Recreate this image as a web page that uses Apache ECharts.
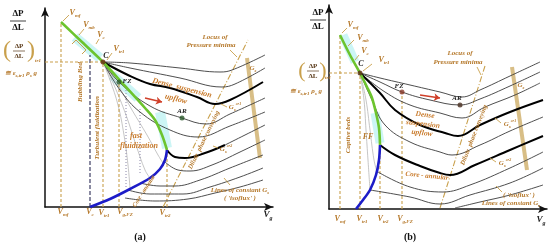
<!DOCTYPE html>
<html>
<head>
<meta charset="utf-8">
<script src="https://cdn.jsdelivr.net/npm/echarts@6/dist/echarts.min.js"></script>
<style>
html, body { margin: 0; background: #fff; }
#chart { width: 550px; height: 245px; }
</style>
</head>
<body>
<div id="chart"></div>
<script>
// ===== Panel (a): schematic units, x = gas velocity, y = pressure gradient =====
var aGreen = [[16,185],[37,165],[58,145],[80,121],[100,99],[110,87],[117,72],[122,57]];
var aBlue = [[45,0],[65,8],[85,18],[105,29],[115,38],[120,47],[122,57]];
var aGs1 = [[58,145],[85,144],[135,139],[175,135],[187,137],[220,152]];
var aGs2 = [[58,145],[85,139],[135,129],[177,120],[190,123],[220,139]];
var aGsCr1 = [[58,145],[85,131],[105,123],[125,119],[152,110],[170,103],[185,107],[218,125]];
var aGs4 = [[58,145],[74,125],[105,101],[137,89],[161,83],[185,93],[220,109]];
var aGs5 = [[58,145],[75,117],[95,95],[125,77],[153,70],[185,81],[220,95]];
var aGsCr2 = [[122,57],[130,50],[140,49],[160,54],[180,62]];
var aGsCr2Tail = [[180,62],[200,72],[220,82]];
var aGs6 = [[120,45],[133,37],[145,36],[167,42],[195,55],[220,67]];
var aGs7 = [[95,24],[115,21],[130,21],[155,27],[185,39],[218,52]];
var aGs8 = [[83,17],[105,13],[138,13],[165,20],[195,30],[218,39]];
var aGs9 = [[80,9],[110,6],[143,8],[170,14],[195,20],[218,27]];
var aFan1 = [[58,145],[65,127],[73,102],[79,72],[83,42],[85,19]];
var aFan2 = [[58,145],[69,122],[81,92],[91,62],[100,37],[105,29]];
var aFan3 = [[58,145],[73,122],[87,97],[102,72],[113,52],[118,44]];
var aVel = { mf: 16, c: 45, tr1: 58, gFZ: 74, tr2: 122 };
var aVelTop = { mf: 185, c: 152, tr1: 145, gFZ: 125, tr2: 57 };
var aDotted = [[81, 20, 119], [95, 34, 100]];
var aC = [58,145], aFZ = [74,125], aAR = [137,89];
var aLocus = [[118,0],[203,167]];
var aGsBar = [[202,149],[215,49]];
var aCyan = [[[30,170],[55,149]], [[67,132],[93,109]], [[115,95],[122,59]]];
var aArrow = [[100,109],[117,105]];

// ===== Panel (b) =====
var bGreen = [[11,174],[21,154],[31,136],[38,122],[43,111],[47,96],[50,81],[51,64]];
var bBlue = [[51,64],[50,49],[47,34],[41,19],[34,9],[27,0]];
var bGs1 = [[31,136],[51,131],[81,124],[111,117],[133,112],[151,119],[181,133],[211,147]];
var bGs2 = [[31,136],[51,127],[73,117],[101,109],[131,104],[151,110],[181,123],[211,137]];
var bGs3 = [[31,136],[56,117],[81,104],[111,96],[133,91],[156,102],[186,114],[211,126]];
var bGsCr1 = [[31,136],[51,116],[66,99],[91,84],[116,76],[129,73],[151,84],[181,97],[214,109]];
var bGs5 = [[31,136],[43,109],[56,84],[81,67],[111,57],[123,54],[151,64],[181,78],[214,92]];
var bGsCr2 = [[51,64],[66,54],[91,43],[111,36],[121,34],[146,44],[181,59],[214,73]];
var bGs7 = [[49,37],[81,22],[114,17],[141,24],[181,41],[214,57]];
var bGs8 = [[41,19],[81,12],[111,5],[141,14],[181,26],[214,41]];
var bGs9 = [[126,1],[151,7],[181,14],[214,24]];
var bFan1 = [[31,136],[35,109],[37,79],[39,49],[41,19]];
var bFan2 = [[31,136],[37,109],[41,79],[45,49],[48,37]];
var bVel = { mf: 11, tr1: 31, tr2: 51, gFZ: 73 };
var bVelTop = { mf: 174, tr1: 136, tr2: 64, gFZ: 117 };
var bC = [31,136], bFZ = [73,117], bAR = [131,104];
var bLocus = [[111,1],[156,143]];
var bGsBar = [[183,142],[198,39]];
var bCyan = [[[14,174],[26,147]], [[46,96],[51,66]]];
var bArrow = [[91,114],[111,111]];

var chart = echarts.init(document.getElementById('chart'));
var F = 'Liberation Serif';
var TAN = '#c9a04c', LBL = '#b5782a', ORG = '#c97b2c';

function L(g, d, col, w, type, z, sm) {
    return { type: 'line', xAxisIndex: g, yAxisIndex: g, data: d, symbol: 'none', smooth: sm || 0,
        z: z || 3, silent: true, clip: false, lineStyle: { color: col, width: w, type: type || 'solid' } };
}
function vline(g, x, top, col, type) {
    return L(g, [[x, 0], [x, top]], col, 1.1, type || [3, 2], 2);
}
function dots(g, pts, cols) {
    return { type: 'scatter', xAxisIndex: g, yAxisIndex: g, symbolSize: 5, z: 6, silent: true,
        data: pts.map(function (p, i) { return { value: p, itemStyle: { color: cols[i] } }; }) };
}
function arrow(g, d) {
    return { type: 'lines', coordinateSystem: 'cartesian2d', xAxisIndex: g, yAxisIndex: g, z: 6,
        symbol: ['none', 'arrow'], symbolSize: 6, silent: true,
        lineStyle: { color: '#d0402a', width: 1.6, opacity: 1 }, data: [{ coords: d }] };
}
function axisX(g, max) {
    return { gridIndex: g, type: 'value', min: 0, max: max,
        axisLine: { show: true, onZero: false, symbol: ['none', 'arrow'], symbolSize: [6, 9],
            lineStyle: { color: '#111', width: 1.5 } },
        axisTick: { show: false }, axisLabel: { show: false }, splitLine: { show: false } };
}

var series = [];
// panel (a)
aCyan.forEach(function (c) { series.push(L(0, c, 'rgba(170,238,238,0.6)', 10, 'solid', 1)); });
[aFan1, aFan2, aFan3].forEach(function (c) { series.push(L(0, c, '#b8b8b8', 0.8, 'solid', 2, 0.4)); });
aDotted.forEach(function (d) { series.push(L(0, [[d[0], d[1]], [d[0], d[2]]], '#8a86a8', 1, [1, 2], 2)); });
['mf', 'tr1', 'gFZ', 'tr2'].forEach(function (k) { series.push(vline(0, aVel[k], aVelTop[k], TAN)); });
series.push(vline(0, aVel.c, aVelTop.c, '#2a2a55', [4, 2]));
series.push(L(0, [[0, aC[1]], aC], TAN, 1.1, [3, 2], 2));
series.push(L(0, aLocus, TAN, 1.1, [6, 2, 1, 2], 2));
series.push(L(0, aGsBar, 'rgba(214,186,128,0.95)', 4, 'solid', 2));
[aGs1, aGs2, aGs4, aGs5, aGsCr2Tail, aGs6, aGs7, aGs8, aGs9].forEach(function (c) {
    series.push(L(0, c, '#3a3a3a', 0.9, 'solid', 3, 0.4));
});
series.push(L(0, aGsCr1, '#000', 2, 'solid', 4, 0.4));
series.push(L(0, aGsCr2, '#000', 2, 'solid', 4, 0.4));
series.push(L(0, aGreen, '#6cc42e', 2.6, 'solid', 5, 0.3));
series.push(L(0, aBlue, '#1c1cc8', 2.6, 'solid', 5, 0.3));
series.push(dots(0, [aC, aFZ, aAR], ['#6a2a12', '#2c5a2c', '#2c5a2c']));
series.push(arrow(0, aArrow));
// panel (b)
bCyan.forEach(function (c) { series.push(L(1, c, 'rgba(170,238,238,0.6)', 9, 'solid', 1)); });
[bFan1, bFan2].forEach(function (c) { series.push(L(1, c, '#b8b8b8', 0.8, 'solid', 2, 0.4)); });
['mf', 'tr1', 'tr2', 'gFZ'].forEach(function (k) { series.push(vline(1, bVel[k], bVelTop[k], TAN)); });
series.push(L(1, [[0, bC[1]], bC], TAN, 1.1, [3, 2], 2));
series.push(L(1, bLocus, TAN, 1.1, [6, 2, 1, 2], 2));
series.push(L(1, bGsBar, 'rgba(214,186,128,0.95)', 4, 'solid', 2));
[bGs1, bGs2, bGs3, bGs5, bGs7, bGs8, bGs9].forEach(function (c) {
    series.push(L(1, c, '#3a3a3a', 0.9, 'solid', 3, 0.4));
});
series.push(L(1, bGsCr1, '#000', 2, 'solid', 4, 0.4));
series.push(L(1, bGsCr2, '#000', 2, 'solid', 4, 0.4));
series.push(L(1, bGreen, '#6cc42e', 2.6, 'solid', 5, 0.3));
series.push(L(1, bBlue, '#1c1cc8', 2.6, 'solid', 5, 0.3));
series.push(dots(1, [bC, bFZ, bAR], ['#5a2a12', '#8a3a2a', '#4a3020']));
series.push(arrow(1, bArrow));

// ===== annotations (pixel layout) =====
function rich(col, fs) {
    var base = { fill: col, fontFamily: F, fontStyle: 'italic', fontWeight: 'bold' };
    return {
        m: Object.assign({}, base, { fontSize: fs, lineHeight: fs + 3 }),
        s: Object.assign({}, base, { fontSize: Math.round(fs * 0.68), verticalAlign: 'bottom' }),
        p: Object.assign({}, base, { fontSize: Math.round(fs * 0.62), verticalAlign: 'top' }),
        r: Object.assign({}, base, { fontStyle: 'normal', fontSize: fs }),
        n: Object.assign({}, base, { fontStyle: 'normal', fontWeight: 'normal', fontSize: fs })
    };
}
function T(x, y, text, col, fs, rot) {
    return { type: 'text', x: x, y: y, rotation: rot || 0, silent: true, z: 20,
        style: { text: text, align: 'center', verticalAlign: 'middle', rich: rich(col, fs) } };
}
function seg(pts, col, w) {
    return { type: 'polyline', silent: true, z: 19, shape: { points: pts },
        style: { stroke: col, lineWidth: w || 0.9, fill: null } };
}
function V(sub) { return '{m|V}{s|' + sub + '}'; }

var g = [];
// panel (a) y-axis titles
g.push(T(18, 14, '{r|ΔP}', '#111', 9), seg([[10, 21], [26, 21]], '#111', 0.8), T(18, 28, '{r|ΔL}', '#111', 9));
g.push(T(7, 51, '{n|(}', TAN, 24), T(31, 51, '{n|)}', TAN, 24));
g.push(T(19, 46, '{r|ΔP}', '#5a3a1a', 7), seg([[13, 51], [25, 51]], '#5a3a1a', 0.7), T(19, 56, '{r|ΔL}', '#5a3a1a', 7));
g.push(T(38, 61, '{s|tr1}', LBL, 8));
g.push(T(21, 73, '{m|≅ ε}{s|s,tr1}{m| ρ}{s|s}{m| g}', LBL, 7));
// panel (a) top velocity labels
g.push(T(75, 13, V('mf'), LBL, 8), seg([[63, 21], [69, 15]], TAN));
g.push(T(89, 25, V('mb'), LBL, 8), seg([[79, 35], [84, 29]], TAN));
g.push(T(101, 35, V('c'), LBL, 8), seg([[96, 44], [99, 39]], TAN));
g.push(T(119, 49, V('tr1'), LBL, 8), seg([[107, 60], [112, 53]], TAN));
g.push(seg([[72, 44], [76, 40], [86, 50], [82, 54]], TAN, 1));
g.push(T(106, 56, '{m|C}', '#222', 8), T(127, 81, '{m|FZ}', '#222', 7), T(182, 111, '{m|AR}', '#222', 7));
g.push(T(80, 82, '{m|Bubbling Bed}', LBL, 7, Math.PI / 2));
g.push(T(97, 128, '{m|Turbulent fluidization}', LBL, 7, Math.PI / 2));
g.push(T(136, 136, '{m|fast}', ORG, 8), T(139, 146, '{m|fluidization}', ORG, 8));
g.push(T(182, 88, '{m|Dense  suspension}', ORG, 8, -0.25), T(176, 99, '{m|upflow}', ORG, 8, -0.25));
g.push(T(215, 37, '{m|Locus of}', LBL, 7), T(211, 45, '{m|Pressure minima}', LBL, 7), seg([[230, 50], [237, 57]], TAN));
g.push(T(253, 68, '{m|G}{s|s}', LBL, 7));
g.push(T(235, 107, '{m|G}{s|s}{p|cr1}', LBL, 7), seg([[221, 104], [227, 107]], TAN));
g.push(T(226, 149, '{m|G}{s|s}{p|cr2}', LBL, 7), seg([[213, 146], [218, 148]], TAN));
g.push(T(204, 140, '{m|Dilute  phase conveying}', LBL, 6.5, 1.12));
g.push(T(144, 191, '{m|Core - annular}', LBL, 6, 1.0));
g.push(T(240, 190, '{m|Lines of constant G}{s|s}', LBL, 7), T(240, 198, "{m|( 'isoflux' )}", LBL, 7), seg([[224, 178], [230, 185]], TAN));
g.push(T(63, 212, V('mf'), LBL, 8), T(90, 212, V('c'), LBL, 8), T(104, 213, V('tr1'), LBL, 8),
       T(125, 212, V('g,FZ'), LBL, 8), T(165, 213, V('tr2'), LBL, 8), T(268, 215, V('g'), '#222', 9));
g.push(T(140, 237, '{r|(}{r|a}{r|)}', '#111', 10));

// panel (b) y-axis titles
g.push(T(318, 13, '{r|ΔP}', '#111', 9), seg([[310, 20], [326, 20]], '#111', 0.8), T(318, 27, '{r|ΔL}', '#111', 9));
g.push(T(302, 71, '{n|(}', TAN, 22), T(323, 71, '{n|)}', TAN, 22));
g.push(T(313, 66, '{r|ΔP}', '#5a3a1a', 7), seg([[307, 71], [319, 71]], '#5a3a1a', 0.7), T(313, 76, '{r|ΔL}', '#5a3a1a', 7));
g.push(T(328, 78, '{s|tr1}', LBL, 8));
g.push(T(306, 91, '{m|≅ ε}{s|s,tr1}{m| ρ}{s|s}{m| g}', LBL, 7));
g.push(T(353, 25, V('mf'), LBL, 8), seg([[342, 33], [347, 28]], TAN));
g.push(T(363, 38, V('mb'), LBL, 8), seg([[348, 46], [354, 40]], TAN));
g.push(T(365, 51, V('c'), LBL, 8), seg([[355, 60], [359, 55]], TAN));
g.push(T(384, 60, V('tr1'), LBL, 8), seg([[363, 71], [372, 64]], TAN));
g.push(T(361, 64, '{m|C}', '#222', 8), T(399, 86, '{m|FZ}', '#222', 7), T(457, 98, '{m|AR}', '#222', 7));
g.push(T(348, 135, '{m|Captive beds}', LBL, 7, Math.PI / 2));
g.push(T(368, 137, '{m|FF}', LBL, 8));
g.push(T(460, 53, '{m|Locus of}', LBL, 7), T(458, 62, '{m|Pressure minima}', LBL, 7), seg([[477, 67], [481, 75]], TAN));
g.push(T(425, 115, '{m|Dense}', ORG, 7.5, -0.12), T(423, 124, '{m|suspension}', ORG, 7.5, -0.12), T(422, 133, '{m|upflow}', ORG, 7.5, -0.12));
g.push(T(521, 85, '{m|G}{s|s}', LBL, 7));
g.push(T(510, 124, '{m|G}{s|s}{p|cr1}', LBL, 7), seg([[495, 118], [501, 123]], TAN));
g.push(T(505, 163, '{m|G}{s|s}{p|cr2}', LBL, 7), seg([[490, 158], [496, 162]], TAN));
g.push(T(427, 176, '{m|Core - annular}', ORG, 7, -0.1));
g.push(T(474, 135, '{m|Dilute  phase conveying}', LBL, 6.5, 1.2));
g.push(T(519, 195, "{m|( 'isoflux' )}", LBL, 7), T(511, 203, '{m|Lines of constant G}{s|s}', LBL, 7), seg([[496, 186], [502, 192]], TAN));
g.push(T(340, 219, V('mf'), LBL, 8), T(362, 219, V('tr1'), LBL, 8), T(383, 219, V('tr2'), LBL, 8),
       T(405, 219, V('g,FZ'), LBL, 8), T(541, 220, V('g'), '#222', 9));
g.push(T(410, 237, '{r|(}{r|b}{r|)}', '#111', 10));

chart.setOption({
    animation: false,
    backgroundColor: '#fff',
    grid: [
        { left: 45, top: 8, width: 228, height: 199 },
        { left: 329, top: 5, width: 218, height: 204 }
    ],
    xAxis: [axisX(0, 228), axisX(1, 218)],
    yAxis: [axisX(0, 199), axisX(1, 204)],
    series: series,
    graphic: g
});
</script>
</body>
</html>
